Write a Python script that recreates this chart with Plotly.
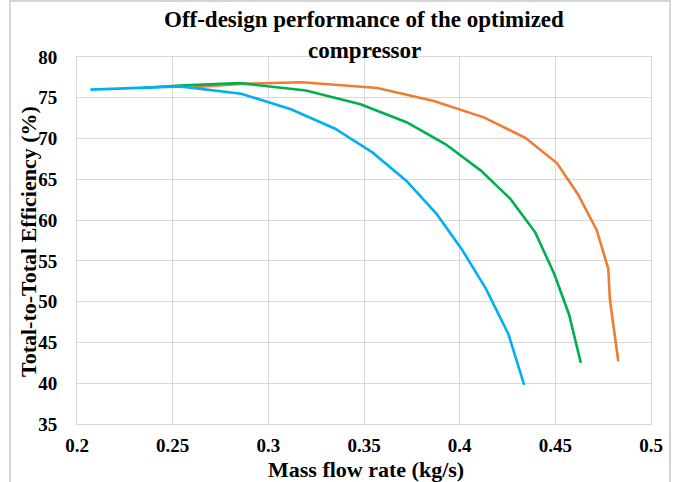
import plotly.graph_objects as go

# Data
flow_orange = [0.2605, 0.2857, 0.3175, 0.3570, 0.3865, 0.4126, 0.4343, 0.4508, 0.4617, 0.4716, 0.4777, 0.4785, 0.4829]
eff_orange = [76.3, 76.7, 76.9, 76.2, 74.6, 72.6, 70.1, 67.0, 63.2, 58.8, 54.0, 50.3, 42.7]

flow_green = [0.2337, 0.2538, 0.2849, 0.3196, 0.3482, 0.3722, 0.3927, 0.4109, 0.4265, 0.4395, 0.4496, 0.4572, 0.4633]
eff_green = [76.2, 76.5, 76.8, 75.9, 74.2, 72.0, 69.3, 66.1, 62.6, 58.5, 53.3, 48.4, 42.5]

flow_cyan = [0.207, 0.2538, 0.2858, 0.3118, 0.3349, 0.3544, 0.3722, 0.3878, 0.4009, 0.4137, 0.4255, 0.4337]
eff_cyan = [76.0, 76.4, 75.5, 73.6, 71.2, 68.3, 64.8, 60.8, 56.5, 51.6, 46.0, 39.8]

x_ticks = [0.2, 0.25, 0.3, 0.35, 0.4, 0.45, 0.5]
x_labels = ["0.2", "0.25", "0.3", "0.35", "0.4", "0.45", "0.5"]
y_ticks = [35, 40, 45, 50, 55, 60, 65, 70, 75, 80]

title_lines = ["Off-design performance of the optimized", "compressor"]
x_title = "Mass flow rate (kg/s)"
y_title = "Total-to-Total Efficiency (%)"

FONT = "Liberation Serif"

fig = go.Figure()
fig.add_trace(go.Scatter(x=flow_orange, y=eff_orange, mode="lines",
                         line=dict(color="#ED7D31", width=2.6), showlegend=False))
fig.add_trace(go.Scatter(x=flow_green, y=eff_green, mode="lines",
                         line=dict(color="#00B050", width=2.6), showlegend=False))
fig.add_trace(go.Scatter(x=flow_cyan, y=eff_cyan, mode="lines",
                         line=dict(color="#00B0F0", width=2.6), showlegend=False))

L, R, T, B = 77, 27, 57, 58
W, H = 678, 482
pw, ph = W - L - R, H - T - B


def px_x(p):
    return (p - L) / pw


def px_y(p):
    return (H - B - p) / ph


fig.update_layout(
    width=W, height=H,
    margin=dict(l=L, r=R, t=T, b=B),
    paper_bgcolor="white", plot_bgcolor="white",
    font=dict(family=FONT, color="black"),
    xaxis=dict(range=[0.2, 0.5], tickvals=x_ticks, ticktext=x_labels, automargin=False,
               showgrid=True, gridcolor="#D9D9D9", gridwidth=1,
               showline=True, linecolor="#D9D9D9", mirror=True, zeroline=False,
               tickfont=dict(family=FONT, size=19, color="black", weight="bold"),
               ticks="outside", ticklen=4, tickcolor="rgba(0,0,0,0)"),
    yaxis=dict(range=[35, 80], tickvals=y_ticks, automargin=False,
               showgrid=True, gridcolor="#D9D9D9", gridwidth=1,
               showline=True, linecolor="#D9D9D9", mirror=True, zeroline=False,
               tickfont=dict(family=FONT, size=19, color="black", weight="bold"),
               ticks="outside", ticklen=15, tickcolor="rgba(0,0,0,0)"),
)

# titles as annotations for exact placement
for txt, ypix in zip(title_lines, [20, 51]):
    fig.add_annotation(text="<b>" + txt + "</b>", xref="paper", yref="paper",
                       x=px_x(L + pw / 2), y=px_y(ypix), xanchor="center", yanchor="middle",
                       showarrow=False, font=dict(family=FONT, size=23, color="black"))
fig.add_annotation(text="<b>" + x_title + "</b>", xref="paper", yref="paper",
                   x=px_x(366), y=px_y(469), xanchor="center", yanchor="middle",
                   showarrow=False, font=dict(family=FONT, size=22, color="black"))
fig.add_annotation(text="<b>" + y_title + "</b>", xref="paper", yref="paper",
                   x=px_x(28), y=px_y(242), xanchor="center", yanchor="middle", textangle=-90,
                   showarrow=False, font=dict(family=FONT, size=22, color="black"))

# outer chart border
fig.add_shape(type="rect", xref="paper", yref="paper",
              x0=px_x(10), x1=px_x(670), y0=px_y(495), y1=px_y(1),
              line=dict(color="#C8C8C8", width=1.5), fillcolor="rgba(0,0,0,0)", layer="below")

fig.write_html("out.html")
